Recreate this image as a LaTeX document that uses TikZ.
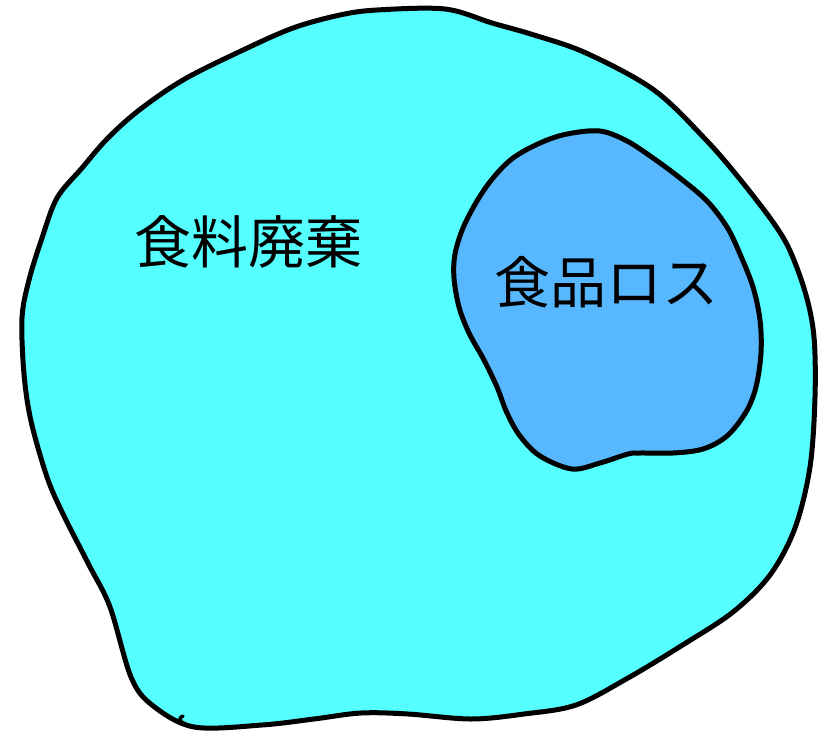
\documentclass[tikz,border=0pt]{standalone}
\usepackage{fontspec}
\newfontfamily\cjk{Noto Sans CJK JP}
\definecolor{outerfill}{HTML}{55FFFF}
\definecolor{innerfill}{HTML}{58B8FF}
\tikzset{
  blobline/.style={draw=black, line width=5pt, line join=round, line cap=round},
  labeltext/.style={font=\cjk\fontsize{57}{60}\selectfont, text=black, inner sep=0pt}
}
\begin{document}
\begin{tikzpicture}[x=1pt,y=-1pt]
\useasboundingbox (0,0) rectangle (820,731);
% outer blob
\path[blobline, fill=outerfill] plot[smooth cycle, tension=0.55] coordinates {
 (377,10) (445,9) (492,23) (534,35) (586,53) (654,90) (707,141) (743,183)
 (775,225) (791,253) (806,295) (814,337) (815,397) (810,467) (795,528)
 (770,575) (733,612) (681,646) (628,678) (576,705) (524,714) (471,719)
 (408,714) (361,713) (314,719) (262,725) (194,727) (152,705) (131,677)
 (110,607) (89,565) (63,514) (47,477) (31,421) (24,374) (22,318) (29,280)
 (42,238) (57,198) (82,168) (107,139) (138,111) (183,80) (241,51) (293,28) (340,15)
};
% small curl where the stroke ends
\draw[blobline, line width=3.5pt] (191,726) .. controls (182,724) and (176,719) .. (183,716);
% inner blob
\path[blobline, fill=innerfill] plot[smooth cycle, tension=0.55] coordinates {
 (600,131) (567,134) (540,143) (513,158) (493,178) (477,201) (463,228)
 (455,254) (454,278) (459,307) (469,333) (484,360) (497,387) (507,413)
 (520,436) (540,456) (572,469) (600,463) (628,454) (640,453) (673,453)
 (703,449) (727,436) (746,412) (756,387) (761,353) (760,320) (753,287)
 (740,254) (727,227) (707,201) (680,178) (653,158) (627,141)
};
\node[labeltext] (waste) at (248,242) {食料廃棄};
\node[labeltext, font=\cjk\fontsize{56}{60}\selectfont] (loss) at (606,282) {食品ロス};
\end{tikzpicture}
\end{document}
